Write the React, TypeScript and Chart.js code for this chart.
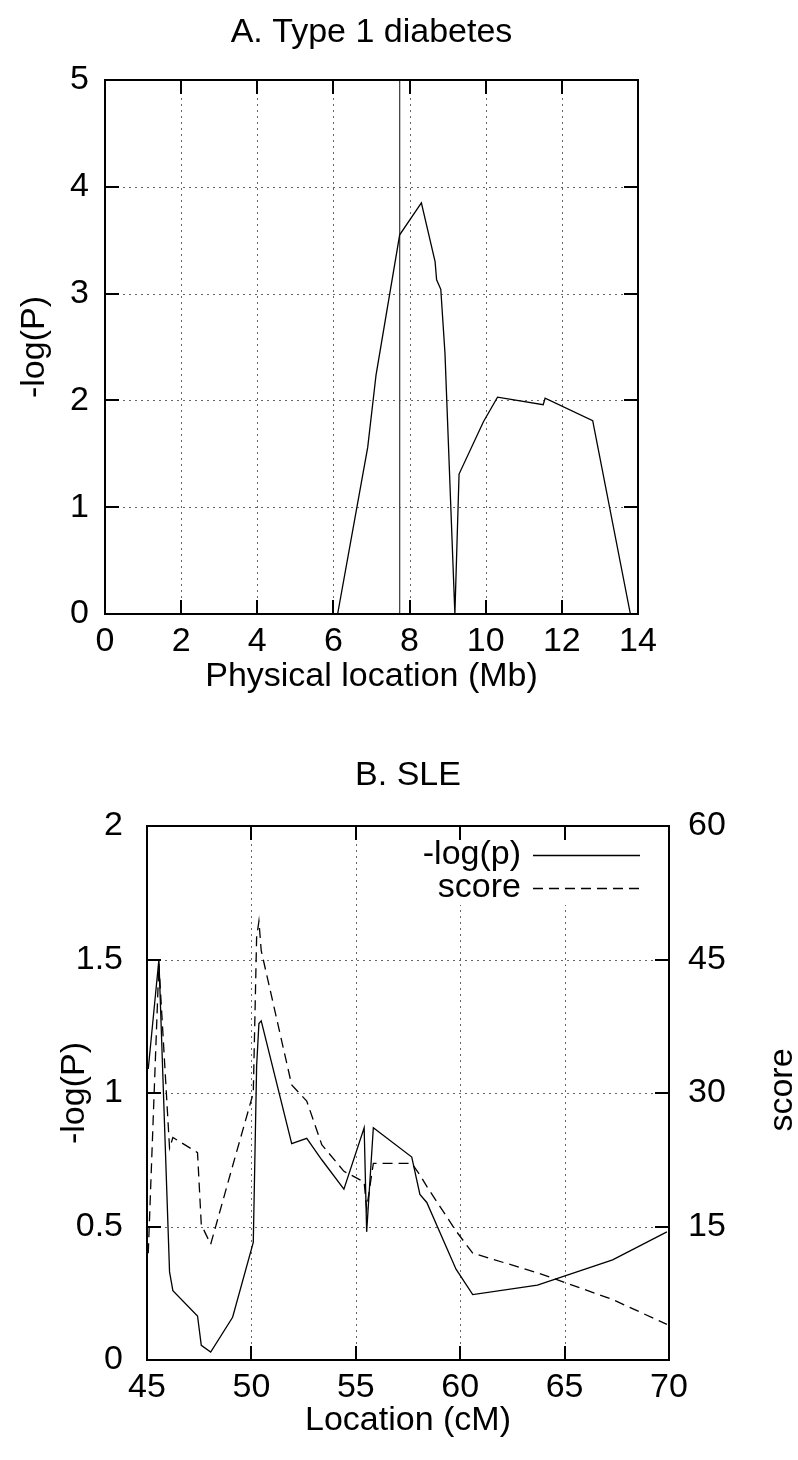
import React, { useEffect, useRef } from 'react';
import { Chart, registerables } from 'chart.js';

Chart.register(...registerables);

const FONT_FAMILY = "'Liberation Sans', Arial, Helvetica, sans-serif";
const FONT_SIZE = 34;

// ---- Panel A: Type 1 diabetes ----
const t1dLocationMb = [6.11, 6.9, 7.12, 7.74, 8.31, 8.67, 8.71, 8.82, 8.93, 9.19, 9.3, 9.94, 10.31, 11.51, 11.56, 12.81, 13.8];
const t1dNegLogP = [0, 1.56, 2.24, 3.55, 3.85, 3.3, 3.13, 3.04, 2.44, 0, 1.31, 1.8, 2.03, 1.96, 2.02, 1.81, 0];
const t1dMarkerMb = 7.74;
const t1dXTicks = [0, 2, 4, 6, 8, 10, 12, 14];
const t1dYTicks = [0, 1, 2, 3, 4, 5];

// ---- Panel B: SLE ----
const sleLocationCM = [45.06, 45.57, 46.08, 46.24, 47.42, 47.6, 48.05, 49.1, 50.09, 50.25, 50.36, 50.47, 51.93, 52.65, 53.37, 54.43, 55.4, 55.52, 55.84, 57.68, 58.07, 58.4, 59.8, 60.6, 63.7, 67.3, 69.9];
const sleNegLogP = [1.09, 1.5, 0.33, 0.26, 0.165, 0.055, 0.03, 0.16, 0.44, 1.1, 1.26, 1.27, 0.81, 0.83, 0.75, 0.64, 0.87, 0.48, 0.87, 0.76, 0.62, 0.59, 0.34, 0.245, 0.28, 0.375, 0.48];
const sleScore = [12.0, 44.5, 23.8, 25.0, 23.3, 15.2, 13.0, 21.8, 30.0, 47.5, 49.3, 46.0, 30.9, 29.1, 24.2, 21.2, 20.0, 17.0, 22.1, 22.1, 20.8, 19.5, 14.5, 12.0, 9.8, 6.8, 4.0];
const sleXTicks = [45, 50, 55, 60, 65, 70];
const sleYTicks = [0, 0.5, 1, 1.5, 2];
const sleScoreTicks = [15, 30, 45, 60];

const font = { family: FONT_FAMILY, size: FONT_SIZE, weight: 'normal' as const };

const setTicks = (arr: number[]) => (scale: any) => {
  scale.ticks = arr.map((v) => ({ value: v }));
};

const gnuFrame = {
  id: 'gnuframe',
  beforeDatasetsDraw(chart: any, _a: any, o: any) {
    const { ctx, chartArea: ca } = chart;
    const xs = chart.scales.x;
    const ys = chart.scales.y;
    ctx.save();
    ctx.strokeStyle = '#666';
    ctx.lineWidth = 1;
    ctx.setLineDash([2, 4]);
    (o.xGrid || []).forEach((v: number) => {
      const p = Math.round(xs.getPixelForValue(v)) + 0.5;
      ctx.beginPath();
      ctx.moveTo(p, ca.top);
      ctx.lineTo(p, ca.bottom);
      ctx.stroke();
    });
    (o.yGrid || []).forEach((v: number) => {
      const p = Math.round(ys.getPixelForValue(v)) + 0.5;
      ctx.beginPath();
      ctx.moveTo(ca.left, p);
      ctx.lineTo(ca.right, p);
      ctx.stroke();
    });
    ctx.restore();
  },
  afterDatasetsDraw(chart: any, _a: any, o: any) {
    const { ctx, chartArea: ca } = chart;
    const xs = chart.scales.x;
    const ys = chart.scales.y;
    ctx.save();
    if (o.legend) {
      const L = o.legend;
      ctx.fillStyle = '#fff';
      ctx.fillRect(L.boxLeft, L.boxTop, ca.right - L.boxLeft, L.boxBottom - L.boxTop);
      ctx.font = `${FONT_SIZE}px ${FONT_FAMILY}`;
      ctx.fillStyle = '#000';
      ctx.textAlign = 'right';
      ctx.textBaseline = 'middle';
      chart.data.datasets.forEach((ds: any, i: number) => {
        const y = L.rows[i];
        ctx.fillText(ds.label, L.textRight, y);
        ctx.strokeStyle = '#000';
        ctx.lineWidth = ds.borderWidth || 1;
        ctx.setLineDash(ds.borderDash || []);
        ctx.beginPath();
        ctx.moveTo(L.lineStart, Math.round(y) + 0.5);
        ctx.lineTo(L.lineEnd, Math.round(y) + 0.5);
        ctx.stroke();
      });
      ctx.setLineDash([]);
    }
    // border
    ctx.strokeStyle = '#000';
    ctx.lineWidth = 2;
    ctx.strokeRect(ca.left, ca.top, ca.right - ca.left, ca.bottom - ca.top);
    const TL = 14;
    ctx.lineWidth = 2;
    (o.xTicks || []).forEach((v: number) => {
      const p = Math.round(xs.getPixelForValue(v));
      ctx.beginPath();
      ctx.moveTo(p, ca.bottom);
      ctx.lineTo(p, ca.bottom - TL);
      ctx.moveTo(p, ca.top);
      ctx.lineTo(p, ca.top + TL);
      ctx.stroke();
    });
    (o.yTicks || []).forEach((v: number) => {
      const p = Math.round(ys.getPixelForValue(v));
      ctx.beginPath();
      ctx.moveTo(ca.left, p);
      ctx.lineTo(ca.left + TL, p);
      if (o.mirrorY) {
        ctx.moveTo(ca.right, p);
        ctx.lineTo(ca.right - TL, p);
      }
      ctx.stroke();
    });
    if (o.y2Ticks && chart.scales.y2) {
      const y2 = chart.scales.y2;
      o.y2Ticks.forEach((v: number) => {
        const p = Math.round(y2.getPixelForValue(v));
        ctx.beginPath();
        ctx.moveTo(ca.right, p);
        ctx.lineTo(ca.right - TL, p);
        ctx.stroke();
      });
    }
    ctx.restore();
  },
  afterDraw(chart: any, _a: any, o: any) {
    if (!o.y2Title) return;
    const { ctx } = chart;
    const text = chart.options.scales.y2.title.text;
    ctx.save();
    ctx.font = `${FONT_SIZE}px ${FONT_FAMILY}`;
    ctx.fillStyle = '#000';
    ctx.textAlign = 'center';
    ctx.textBaseline = 'middle';
    ctx.translate(o.y2Title.x, o.y2Title.y);
    ctx.rotate(-Math.PI / 2);
    ctx.fillText(text, 0, 0);
    ctx.restore();
  },
};

function makeA(canvas: HTMLCanvasElement) {
  return new Chart(canvas, {
    type: 'scatter',
    data: {
      datasets: [
        {
          label: '-log(P)',
          data: t1dLocationMb.map((x, i) => ({ x, y: t1dNegLogP[i] })),
          showLine: true,
          borderColor: '#000',
          borderWidth: 1.3,
          pointRadius: 0,
          tension: 0,
        },
        {
          label: 'marker',
          data: [
            { x: t1dMarkerMb, y: t1dYTicks[0] },
            { x: t1dMarkerMb, y: t1dYTicks[t1dYTicks.length - 1] },
          ],
          showLine: true,
          borderColor: '#444',
          borderWidth: 1.3,
          pointRadius: 0,
        },
      ],
    },
    options: {
      responsive: false,
      animation: false,
      events: [],
      layout: { padding: { left: 0, right: 160, top: 0, bottom: 29 } },
      plugins: {
        legend: { display: false },
        tooltip: { enabled: false },
        title: {
          display: true,
          fullSize: false,
          text: 'A. Type 1 diabetes',
          font,
          color: '#000',
          padding: { top: 12.6, bottom: 26.6 },
        },
        gnuframe: {
          xGrid: t1dXTicks.slice(1, -1),
          yGrid: t1dYTicks.slice(1, -1),
          xTicks: t1dXTicks,
          yTicks: t1dYTicks,
          mirrorY: true,
        },
      } as any,
      scales: {
        x: {
          type: 'linear',
          min: 0,
          max: 14,
          afterBuildTicks: setTicks(t1dXTicks),
          afterFit: (s: any) => { s.height = 100; },
          grid: { display: false, drawTicks: false },
          border: { display: false },
          ticks: { font, color: '#000', padding: 7, maxRotation: 0, autoSkip: false, callback: (v: any) => String(v) },
          title: { display: true, text: 'Physical location (Mb)', font, color: '#000', padding: { top: 0, bottom: 17 } },
        },
        y: {
          type: 'linear',
          min: 0,
          max: 5,
          afterBuildTicks: setTicks(t1dYTicks),
          afterFit: (s: any) => { s.width = 105; },
          grid: { display: false, drawTicks: false },
          border: { display: false },
          ticks: { font, color: '#000', padding: 16, autoSkip: false, callback: (v: any) => String(v) },
          title: { display: true, text: '-log(P)', font, color: '#000', padding: { top: 14.6, bottom: 0 } },
        },
      } as any,
    },
    plugins: [gnuFrame as any],
  });
}

function makeB(canvas: HTMLCanvasElement) {
  return new Chart(canvas, {
    type: 'scatter',
    data: {
      datasets: [
        {
          label: '-log(p)',
          data: sleLocationCM.map((x, i) => ({ x, y: sleNegLogP[i] })),
          showLine: true,
          borderColor: '#000',
          borderWidth: 1.3,
          pointRadius: 0,
          tension: 0,
          yAxisID: 'y',
        },
        {
          label: 'score',
          data: sleLocationCM.map((x, i) => ({ x, y: sleScore[i] })),
          showLine: true,
          borderColor: '#000',
          borderWidth: 1.3,
          borderDash: [10, 6],
          pointRadius: 0,
          tension: 0,
          yAxisID: 'y2',
        },
      ],
    },
    options: {
      responsive: false,
      animation: false,
      events: [],
      layout: { padding: { left: 0, right: 0, top: 0, bottom: 0 } },
      plugins: {
        legend: { display: false },
        tooltip: { enabled: false },
        title: {
          display: true,
          fullSize: false,
          text: 'B. SLE',
          font,
          color: '#000',
          padding: { top: 12.6, bottom: 29.6 },
        },
        gnuframe: {
          xGrid: sleXTicks.slice(1, -1),
          yGrid: sleYTicks.slice(1, -1),
          xTicks: sleXTicks,
          yTicks: sleYTicks,
          y2Ticks: sleScoreTicks,
          mirrorY: false,
          legend: {
            boxLeft: 418,
            boxTop: 94,
            boxBottom: 162,
            textRight: 521,
            lineStart: 533,
            lineEnd: 640,
            rows: [112, 145],
          },
          y2Title: { x: 783, y: 347 },
        },
      } as any,
      scales: {
        x: {
          type: 'linear',
          min: 45,
          max: 70,
          afterBuildTicks: setTicks(sleXTicks),
          afterFit: (s: any) => { s.height = 100; },
          grid: { display: false, drawTicks: false },
          border: { display: false },
          ticks: { font, color: '#000', padding: 7, maxRotation: 0, autoSkip: false, callback: (v: any) => String(v) },
          title: { display: true, text: 'Location (cM)', font, color: '#000', padding: { top: 0, bottom: 19 } },
        },
        y: {
          type: 'linear',
          position: 'left',
          min: 0,
          max: 2,
          afterBuildTicks: setTicks(sleYTicks),
          afterFit: (s: any) => { s.width = 147; },
          grid: { display: false, drawTicks: false },
          border: { display: false },
          ticks: { font, color: '#000', padding: 24, autoSkip: false, callback: (v: any) => String(v) },
          title: { display: true, text: '-log(P)', font, color: '#000', padding: { top: 54.6, bottom: 0 } },
        },
        y2: {
          type: 'linear',
          position: 'right',
          min: 0,
          max: 60,
          afterBuildTicks: setTicks(sleScoreTicks),
          afterFit: (s: any) => { s.width = 129; },
          grid: { display: false, drawTicks: false },
          border: { display: false },
          ticks: { font, color: '#000', padding: 19, autoSkip: false, callback: (v: any) => String(v) },
          title: { display: false, text: 'score', font, color: '#000' },
        },
      } as any,
    },
    plugins: [gnuFrame as any],
  });
}

export default function App() {
  const refA = useRef<HTMLCanvasElement | null>(null);
  const refB = useRef<HTMLCanvasElement | null>(null);

  useEffect(() => {
    Chart.defaults.color = '#000';
    Chart.defaults.font.family = FONT_FAMILY;
    const a = refA.current ? makeA(refA.current) : null;
    const b = refB.current ? makeB(refB.current) : null;
    return () => {
      a?.destroy();
      b?.destroy();
    };
  }, []);

  return (
    <div style={{ position: 'absolute', left: 0, top: 0, width: 798, height: 1460, background: '#fff' }}>
      <canvas ref={refA} width={798} height={743} style={{ display: 'block', width: 798, height: 743 }} />
      <canvas ref={refB} width={798} height={717} style={{ display: 'block', width: 798, height: 717 }} />
    </div>
  );
}
